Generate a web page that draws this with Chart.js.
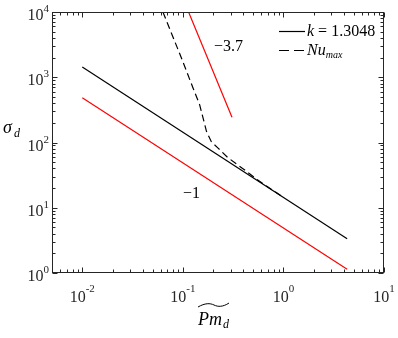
<!DOCTYPE html>
<html>
<head>
<meta charset="utf-8">
<script src="https://cdn.jsdelivr.net/npm/chart.js@4/dist/chart.umd.min.js"></script>
<style>
html, body { margin: 0; padding: 0; background: #fff; }
</style>
</head>
<body>
<canvas id="chart" width="398" height="338"></canvas>
<script>
// k = 1.3048 fit (solid black)
var kX = [0.01, 4.3];
var kY = [1440, 3.35];
// slope -1 guide (red)
var guide1X = [0.01, 4.3];
var guide1Y = [487, 1.14];
// slope -3.7 guide (red)
var guide37X = [0.114, 0.308];
var guide37Y = [10000, 244];
// Nu_max (dashed black)
var nuX = [0.0634, 0.097, 0.1265, 0.147, 0.159, 0.172, 0.192, 0.224, 0.279, 0.43, 0.54, 0.75, 1.0];
var nuY = [10000, 1954, 679, 377, 236, 147, 103, 82, 59, 36, 27.5, 19.4, 14.4];

var xTicks = [0.01, 0.1, 1, 10];
var xTickExp = ['-2', '-1', '0', '1'];
var yTicks = [1, 10, 100, 1000, 10000];
var yTickExp = ['0', '1', '2', '3', '4'];

function pts(xs, ys) {
	return xs.map(function (x, i) { return { x: x, y: ys[i] }; });
}

var serif = '"Liberation Serif", "DejaVu Serif", serif';
var axisColor = '#262626';

var decor = {
	id: 'decor',
	afterDatasetsDraw: function (c) {
		var ctx = c.ctx, a = c.chartArea, xs = c.scales.x, ys = c.scales.y;
		var L = Math.round(a.left) + 0.5, R = Math.round(a.right) - 0.5,
			T = Math.round(a.top) + 0.5, B = Math.round(a.bottom) - 0.5;
		ctx.save();
		ctx.strokeStyle = axisColor;
		ctx.lineWidth = 1;
		ctx.setLineDash([]);
		ctx.strokeRect(L, T, R - L, B - T);

		// inward ticks, all four sides
		ctx.beginPath();
		var n, m, v, p, len;
		for (n = -3; n <= 1; n++) for (m = 1; m <= 9; m++) {
			v = m * Math.pow(10, n);
			if (v < xs.min || v > xs.max) continue;
			p = Math.round(xs.getPixelForValue(v)) + 0.5;
			len = m === 1 ? 5 : 3;
			ctx.moveTo(p, B); ctx.lineTo(p, B - len);
			ctx.moveTo(p, T); ctx.lineTo(p, T + len);
		}
		for (n = 0; n <= 4; n++) for (m = 1; m <= 9; m++) {
			v = m * Math.pow(10, n);
			if (v < ys.min || v > ys.max) continue;
			p = Math.round(ys.getPixelForValue(v)) + 0.5;
			len = m === 1 ? 5 : 3;
			ctx.moveTo(L, p); ctx.lineTo(L + len, p);
			ctx.moveTo(R, p); ctx.lineTo(R - len, p);
		}
		ctx.stroke();

		// tick labels 10^n
		ctx.fillStyle = axisColor;
		ctx.textBaseline = 'alphabetic';
		ctx.textAlign = 'left';
		xTicks.forEach(function (t, i) {
			var px = xs.getPixelForValue(t);
			ctx.font = '16px ' + serif;
			var w1 = ctx.measureText('10').width;
			ctx.font = '11px ' + serif;
			var w2 = ctx.measureText(xTickExp[i]).width;
			var x0 = px - (w1 + w2) / 2;
			ctx.font = '16px ' + serif;
			ctx.fillText('10', x0, 302);
			ctx.font = '11px ' + serif;
			ctx.fillText(xTickExp[i], x0 + w1, 292);
		});
		yTicks.forEach(function (t, i) {
			var py = ys.getPixelForValue(t);
			ctx.font = '11px ' + serif;
			var w2 = ctx.measureText(yTickExp[i]).width;
			ctx.font = '16px ' + serif;
			var w1 = ctx.measureText('10').width;
			var x1 = 49 - w2;
			ctx.fillText('10', x1 - w1, py + 8);
			ctx.font = '11px ' + serif;
			ctx.fillText(yTickExp[i], x1, py);
		});

		// axis titles
		ctx.fillStyle = '#000';
		ctx.font = 'italic 18px ' + serif;
		ctx.fillText('σ', 3, 133);
		ctx.font = 'italic 12px ' + serif;
		ctx.fillText('d', 14, 137);

		ctx.font = 'italic 18px ' + serif;
		ctx.fillText('Pm', 198, 325);
		var wPm = ctx.measureText('Pm').width;
		ctx.font = 'italic 12px ' + serif;
		ctx.fillText('d', 198 + wPm + 1, 328);
		// wide tilde accent
		ctx.strokeStyle = '#000';
		ctx.lineWidth = 1;
		ctx.beginPath();
		ctx.moveTo(198, 307);
		ctx.bezierCurveTo(205, 303, 210, 303, 214, 305);
		ctx.bezierCurveTo(218, 307, 223, 307, 229, 303);
		ctx.stroke();

		// slope annotations
		ctx.font = '16px ' + serif;
		ctx.fillText('\u22123.7', 214, 51);
		ctx.fillText('\u22121', 183, 198);

		// legend
		var d0 = c.data.datasets[0], d3 = c.data.datasets[3];
		ctx.strokeStyle = d0.borderColor;
		ctx.lineWidth = d0.borderWidth;
		ctx.beginPath();
		ctx.moveTo(279, 31.5); ctx.lineTo(305, 31.5);
		ctx.stroke();
		ctx.strokeStyle = d3.borderColor;
		ctx.lineWidth = d3.borderWidth;
		ctx.setLineDash([10, 5]);
		ctx.beginPath();
		ctx.moveTo(279, 50.5); ctx.lineTo(305, 50.5);
		ctx.stroke();
		ctx.setLineDash([]);

		ctx.font = 'italic 16px ' + serif;
		ctx.fillText('k', 307, 36);
		var wk = ctx.measureText('k').width;
		ctx.font = '16px ' + serif;
		ctx.fillText(' = 1.3048', 307 + wk, 36);
		ctx.font = 'italic 16px ' + serif;
		ctx.fillText('Nu', 307, 55);
		var wNu = ctx.measureText('Nu').width;
		ctx.font = 'italic 10px ' + serif;
		ctx.fillText('max', 307 + wNu, 58);
		ctx.restore();
	}
};

var chartInstance = new Chart(document.getElementById('chart').getContext('2d'), {
	type: 'line',
	data: {
		datasets: [{
			label: 'k = 1.3048',
			data: pts(kX, kY),
			borderColor: '#000000',
			borderWidth: 1.2
		}, {
			label: 'slope -1',
			data: pts(guide1X, guide1Y),
			borderColor: '#ff0000',
			borderWidth: 1.2
		}, {
			label: 'slope -3.7',
			data: pts(guide37X, guide37Y),
			borderColor: '#ff0000',
			borderWidth: 1.2
		}, {
			label: 'Nu_max',
			data: pts(nuX, nuY),
			borderColor: '#000000',
			borderWidth: 1.2,
			borderDash: [7, 4]
		}]
	},
	options: {
		responsive: false,
		animation: false,
		layout: { padding: { left: 52, top: 12, right: 14, bottom: 65 } },
		elements: { point: { radius: 0 }, line: { tension: 0 } },
		plugins: { legend: { display: false }, tooltip: { enabled: false } },
		scales: {
			x: { type: 'logarithmic', min: 0.005, max: 10, display: false },
			y: { type: 'logarithmic', min: 1, max: 10000, display: false }
		}
	},
	plugins: [decor]
});
</script>
</body>
</html>
